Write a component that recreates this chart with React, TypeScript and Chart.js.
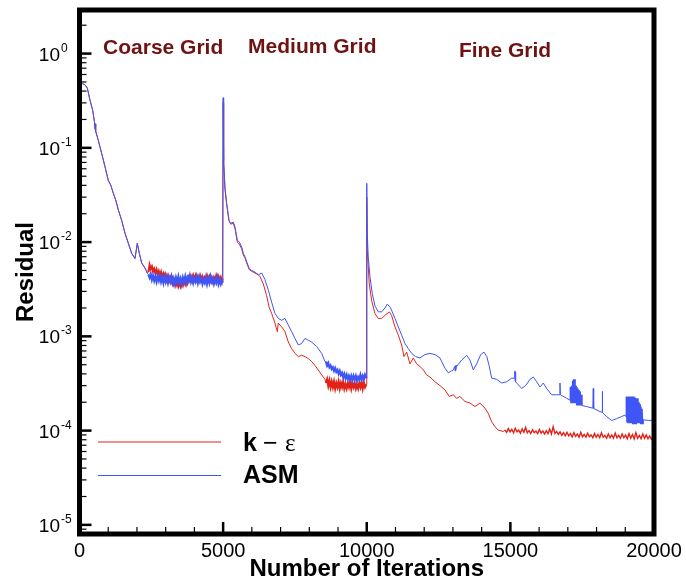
import { useEffect, useRef } from 'react';
import { Chart, registerables } from 'chart.js';

Chart.register(...registerables);

type P = [number, number];

// ---------- DATA (iteration, residual) ----------
const coarseDescent: P[] = [
  [100, 0.48], [180, 0.47], [272, 0.43], [366, 0.32], [459, 0.25], [520, 0.19], [540, 0.16],
  [555, 0.18], [570, 0.15], [655, 0.12], [773, 0.087], [888, 0.063], [1004, 0.045],
  [1090, 0.04], [1177, 0.033], [1260, 0.028], [1351, 0.022], [1468, 0.017], [1584, 0.0124],
  [1700, 0.0097], [1816, 0.0076], [1932, 0.0067], [2013, 0.0097], [2083, 0.0076],
  [2165, 0.006], [2280, 0.0053], [2360, 0.0047],
];

const asmCoarsePlateau: P[] = [
  [2400, 4.5e-3], [2440, 4.2e-3], [2480, 4.6e-3], [2520, 4.0e-3], [2560, 4.4e-3], [2600, 3.9e-3],
  [2640, 4.3e-3], [2680, 3.8e-3], [2720, 4.3e-3], [2760, 3.9e-3], [2800, 4.4e-3], [2840, 3.8e-3],
  [2880, 4.2e-3], [2920, 3.7e-3], [2960, 4.3e-3], [3000, 3.8e-3], [3040, 4.2e-3], [3080, 3.7e-3],
  [3120, 4.2e-3], [3160, 3.8e-3], [3200, 4.3e-3], [3240, 3.7e-3], [3280, 4.1e-3], [3320, 3.6e-3],
  [3360, 4.2e-3], [3400, 3.8e-3], [3440, 4.3e-3], [3480, 3.7e-3], [3520, 4.1e-3], [3560, 3.6e-3],
  [3600, 4.2e-3], [3640, 3.8e-3], [3680, 4.3e-3], [3720, 3.7e-3], [3760, 4.2e-3], [3800, 3.9e-3],
  [3840, 4.4e-3], [3880, 3.8e-3], [3920, 4.2e-3], [3960, 3.7e-3], [4000, 4.1e-3], [4040, 3.8e-3],
  [4080, 4.3e-3], [4120, 3.7e-3], [4160, 4.2e-3], [4200, 3.8e-3], [4240, 4.1e-3], [4280, 3.6e-3],
  [4320, 4.0e-3], [4360, 3.7e-3], [4400, 4.2e-3], [4440, 3.6e-3], [4480, 4.1e-3], [4520, 3.7e-3],
  [4560, 4.3e-3], [4600, 3.8e-3], [4640, 4.1e-3], [4680, 3.6e-3], [4720, 4.0e-3], [4760, 3.7e-3],
  [4800, 4.2e-3], [4840, 3.6e-3], [4880, 4.0e-3], [4920, 3.6e-3], [4960, 3.9e-3], [4985, 3.7e-3],
];

const keCoarsePlateau: P[] = [
  [2400, 4.8e-3], [2440, 5.7e-3], [2480, 5.2e-3], [2520, 5.5e-3], [2560, 4.9e-3], [2600, 5.2e-3],
  [2640, 4.7e-3], [2680, 5.1e-3], [2720, 4.5e-3], [2760, 4.9e-3], [2800, 4.4e-3], [2840, 4.8e-3],
  [2880, 4.3e-3], [2920, 4.6e-3], [2960, 4.1e-3], [3000, 4.5e-3], [3040, 4.0e-3], [3080, 4.4e-3],
  [3120, 3.9e-3], [3160, 4.2e-3], [3200, 3.8e-3], [3240, 4.1e-3], [3280, 3.6e-3], [3320, 3.9e-3],
  [3360, 3.5e-3], [3400, 3.8e-3], [3440, 3.4e-3], [3480, 3.7e-3], [3520, 3.4e-3], [3560, 3.8e-3],
  [3600, 3.5e-3], [3640, 3.9e-3], [3680, 3.6e-3], [3720, 4.0e-3], [3760, 3.7e-3], [3800, 4.2e-3],
  [3840, 3.9e-3], [3880, 4.3e-3], [3920, 3.9e-3], [3960, 4.4e-3], [4000, 4.0e-3], [4040, 4.4e-3],
  [4080, 4.0e-3], [4120, 4.3e-3], [4160, 3.9e-3], [4200, 4.4e-3], [4240, 4.0e-3], [4280, 4.3e-3],
  [4320, 3.9e-3], [4360, 4.2e-3], [4400, 3.9e-3], [4440, 4.4e-3], [4480, 4.0e-3], [4520, 4.3e-3],
  [4560, 3.9e-3], [4600, 4.2e-3], [4640, 3.8e-3], [4680, 4.2e-3], [4720, 3.9e-3], [4760, 4.4e-3],
  [4800, 4.0e-3], [4840, 4.3e-3], [4880, 3.9e-3], [4920, 4.2e-3], [4960, 3.8e-3], [4985, 4.1e-3],
];

const asmMedium: P[] = [
  [5000, 0.34], [5006, 0.166], [5030, 0.074], [5065, 0.038], [5124, 0.0257], [5204, 0.017],
  [5263, 0.0158], [5354, 0.0163], [5413, 0.0145], [5494, 0.0105], [5563, 0.01], [5646, 0.0089],
  [5702, 0.0076], [5761, 0.007], [5820, 0.0062], [5911, 0.0052], [5994, 0.005], [6109, 0.0048],
  [6225, 0.0045], [6342, 0.0047], [6457, 0.004], [6573, 0.0031], [6690, 0.0023], [6805, 0.00175],
  [6921, 0.00155], [7038, 0.00148], [7153, 0.00155], [7269, 0.00132], [7386, 0.00112],
  [7502, 0.00095], [7618, 0.00081], [7734, 0.00084], [7850, 0.00095], [7965, 0.00091],
  [8080, 0.00087], [8257, 0.00078], [8431, 0.00066], [8546, 0.00054],
];

const asmMediumPlateau: P[] = [
  [8580, 5.4e-4], [8620, 4.9e-4], [8660, 5.2e-4], [8700, 4.7e-4], [8740, 4.9e-4], [8780, 4.5e-4],
  [8820, 4.7e-4], [8860, 4.3e-4], [8900, 4.6e-4], [8940, 4.2e-4], [8980, 4.4e-4], [9020, 4.0e-4],
  [9060, 4.3e-4], [9100, 3.9e-4], [9140, 4.1e-4], [9180, 3.7e-4], [9220, 4.0e-4], [9260, 3.6e-4],
  [9300, 3.9e-4], [9340, 3.5e-4], [9380, 3.8e-4], [9420, 3.5e-4], [9460, 3.8e-4], [9500, 3.4e-4],
  [9540, 3.8e-4], [9580, 3.5e-4], [9620, 3.8e-4], [9660, 3.4e-4], [9700, 3.7e-4], [9740, 3.5e-4],
  [9780, 3.9e-4], [9820, 3.5e-4], [9860, 3.8e-4], [9900, 3.5e-4], [9940, 3.9e-4], [9985, 3.6e-4],
];

const keMedium: P[] = [
  [5000, 0.3], [5006, 0.15], [5030, 0.07], [5065, 0.036], [5124, 0.025], [5204, 0.0168],
  [5263, 0.0155], [5354, 0.0158], [5413, 0.014], [5494, 0.01], [5563, 0.0095], [5646, 0.0085],
  [5702, 0.0073], [5761, 0.0068], [5820, 0.006], [5911, 0.0051], [5994, 0.0049], [6109, 0.0047],
  [6225, 0.0045], [6283, 0.0043], [6399, 0.0036], [6515, 0.0027], [6608, 0.002], [6690, 0.00175],
  [6805, 0.00138], [6887, 0.00112], [6920, 0.00138], [7038, 0.00126], [7153, 0.00112],
  [7269, 0.00087], [7386, 0.00074], [7502, 0.00066], [7618, 0.00061], [7734, 0.00063],
  [7850, 0.00061], [7965, 0.00058], [8083, 0.00054], [8200, 0.00049], [8312, 0.00044],
  [8431, 0.00039], [8546, 0.00035],
];

const keMediumPlateau: P[] = [
  [8580, 3.2e-4], [8620, 3.5e-4], [8660, 3.0e-4], [8700, 3.4e-4], [8740, 2.9e-4], [8780, 3.3e-4],
  [8820, 2.9e-4], [8860, 3.3e-4], [8900, 2.8e-4], [8940, 3.2e-4], [8980, 2.9e-4], [9020, 3.3e-4],
  [9060, 2.8e-4], [9100, 3.2e-4], [9140, 2.9e-4], [9180, 3.3e-4], [9220, 2.8e-4], [9260, 3.1e-4],
  [9300, 2.8e-4], [9340, 3.2e-4], [9380, 2.9e-4], [9420, 3.3e-4], [9460, 2.8e-4], [9500, 3.2e-4],
  [9540, 2.9e-4], [9580, 3.2e-4], [9620, 2.8e-4], [9660, 3.1e-4], [9700, 2.8e-4], [9740, 3.2e-4],
  [9780, 2.9e-4], [9820, 3.3e-4], [9860, 2.8e-4], [9900, 3.2e-4], [9940, 2.9e-4], [9985, 3.1e-4],
];

const asmFine: P[] = [
  [10000, 0.042], [10018, 0.0123], [10053, 0.0069], [10112, 0.0043], [10193, 0.00285],
  [10286, 0.0021], [10402, 0.00182], [10518, 0.00182], [10634, 0.002], [10716, 0.0022],
  [10831, 0.002], [10983, 0.00155], [11099, 0.00126], [11215, 0.00103], [11331, 0.00084],
  [11447, 0.00074], [11563, 0.00066], [11700, 0.00061], [11853, 0.00059], [12027, 0.00064],
  [12200, 0.00066], [12375, 0.00064], [12549, 0.00059], [12723, 0.00046], [12839, 0.00041],
  [12950, 0.00043], [13013, 0.00044], [13060, 0.00048], [13075, 0.00043], [13090, 0.00049],
  [13105, 0.00044], [13120, 0.00049], [13130, 0.00048], [13304, 0.00056], [13478, 0.00063],
  [13594, 0.00056], [13710, 0.00044], [13826, 0.00051], [13967, 0.00064], [14082, 0.00068],
  [14180, 0.00061], [14266, 0.00048], [14349, 0.00036], [14520, 0.00035], [14697, 0.00032],
  [14870, 0.00033], [15045, 0.00036], [15140, 0.00036], [15155, 0.00043], [15165, 0.00034],
  [15175, 0.00042], [15190, 0.00033], [15393, 0.00028], [15530, 0.0003], [15683, 0.00035],
  [15799, 0.00037], [15915, 0.00033], [16030, 0.00029], [16146, 0.00032], [16262, 0.00028],
  [16437, 0.00024], [16610, 0.00024], [16715, 0.00024], [16727, 0.00032], [16740, 0.00024],
  [16960, 0.00022],
  [17080, 2.1e-4], [17100, 2.9e-4], [17120, 2.0e-4], [17140, 3.0e-4], [17160, 2.0e-4],
  [17180, 3.4e-4], [17200, 2.0e-4], [17220, 3.5e-4], [17240, 1.95e-4], [17260, 3.0e-4],
  [17280, 1.95e-4], [17300, 2.9e-4], [17320, 1.9e-4], [17340, 2.8e-4], [17360, 1.9e-4],
  [17380, 2.7e-4], [17400, 1.9e-4], [17420, 2.6e-4], [17440, 1.85e-4], [17460, 2.4e-4],
  [17480, 1.85e-4],
  [17655, 0.00018], [17870, 0.000173], [17885, 0.00028], [17900, 0.000172], [18119, 0.000159],
  [18190, 0.000157], [18200, 0.00026], [18212, 0.000155], [18352, 0.000141], [18526, 0.000128],
  [18700, 0.000134], [18870, 0.000141], [18990, 0.000146],
  [19030, 1.4e-4], [19050, 2.3e-4], [19070, 1.25e-4], [19090, 2.3e-4], [19110, 1.2e-4],
  [19130, 2.3e-4], [19150, 1.2e-4], [19170, 2.25e-4], [19190, 1.2e-4], [19210, 2.3e-4],
  [19230, 1.2e-4], [19250, 2.25e-4], [19270, 1.2e-4], [19290, 2.3e-4], [19310, 1.2e-4],
  [19330, 2.25e-4], [19350, 1.2e-4], [19370, 2.2e-4], [19390, 1.2e-4], [19410, 2.2e-4],
  [19430, 1.2e-4], [19450, 2.0e-4], [19470, 1.2e-4], [19490, 1.9e-4], [19510, 1.2e-4],
  [19530, 1.8e-4], [19550, 1.2e-4], [19570, 1.7e-4], [19590, 1.2e-4], [19610, 1.3e-4],
  [19858, 0.000128], [20000, 0.00013],
];

const keFine: P[] = [
  [10000, 0.03], [10018, 0.0082], [10088, 0.0036], [10170, 0.0024], [10286, 0.00174],
  [10402, 0.00155], [10518, 0.00155], [10634, 0.00167], [10785, 0.00182], [10865, 0.00167],
  [10983, 0.00126], [11099, 0.00103], [11215, 0.00081], [11296, 0.00061], [11390, 0.00068],
  [11505, 0.00051], [11620, 0.00059], [11737, 0.00051], [11853, 0.00048], [11970, 0.00044],
  [12086, 0.00039], [12200, 0.00037], [12375, 0.00033], [12549, 0.0003], [12723, 0.00027],
  [12873, 0.00023], [13013, 0.00024], [13130, 0.00022], [13245, 0.00023], [13419, 0.000204],
  [13594, 0.000196], [13768, 0.00018], [13942, 0.000196], [14116, 0.000173], [14232, 0.000152],
  [14349, 0.000124], [14464, 0.00011], [14580, 0.000101], [14753, 0.000098],
];

const keFinePlateau: P[] = [
  [14810, 1.02e-4], [14870, 0.96e-4], [14930, 1.05e-4], [14990, 0.97e-4], [15050, 1.03e-4],
  [15110, 0.95e-4], [15170, 1.06e-4], [15230, 0.97e-4], [15290, 1.01e-4], [15350, 0.94e-4],
  [15410, 1.04e-4], [15470, 0.96e-4], [15530, 1.08e-4], [15590, 0.95e-4], [15650, 1.0e-4],
  [15710, 0.93e-4], [15770, 1.02e-4], [15830, 0.95e-4], [15890, 0.99e-4], [15950, 0.93e-4],
  [16010, 1.03e-4], [16070, 0.94e-4], [16130, 0.99e-4], [16190, 0.92e-4], [16250, 1.0e-4],
  [16310, 0.93e-4], [16370, 1.04e-4], [16430, 0.92e-4], [16490, 1.1e-4], [16550, 0.93e-4],
  [16610, 0.98e-4], [16670, 0.91e-4], [16730, 0.97e-4], [16790, 0.89e-4], [16850, 0.95e-4],
  [16910, 0.88e-4], [16970, 0.96e-4], [17030, 0.88e-4], [17090, 0.93e-4], [17150, 0.86e-4],
  [17210, 0.95e-4], [17270, 0.87e-4], [17330, 0.92e-4], [17390, 0.85e-4], [17450, 0.96e-4],
  [17510, 0.86e-4], [17570, 0.91e-4], [17630, 0.85e-4], [17690, 0.94e-4], [17750, 0.86e-4],
  [17810, 0.9e-4], [17870, 0.84e-4], [17930, 0.93e-4], [17990, 0.85e-4], [18050, 0.91e-4],
  [18110, 0.84e-4], [18170, 0.95e-4], [18230, 0.85e-4], [18290, 0.89e-4], [18350, 0.83e-4],
  [18410, 0.92e-4], [18470, 0.84e-4], [18530, 0.9e-4], [18590, 0.83e-4], [18650, 0.94e-4],
  [18710, 0.84e-4], [18770, 0.89e-4], [18830, 0.83e-4], [18890, 0.92e-4], [18950, 0.84e-4],
  [19010, 0.9e-4], [19070, 0.82e-4], [19130, 0.93e-4], [19190, 0.83e-4], [19250, 0.91e-4],
  [19310, 0.82e-4], [19370, 0.95e-4], [19430, 0.83e-4], [19490, 0.89e-4], [19550, 0.82e-4],
  [19610, 0.92e-4], [19670, 0.83e-4], [19730, 0.9e-4], [19790, 0.82e-4], [19850, 0.88e-4],
  [19910, 0.81e-4], [19970, 0.86e-4], [20000, 0.83e-4],
];

// iteration ranges where the residual history is a dense noisy band
const asmNoisyRanges: P[] = [[2390, 4990], [8570, 9990], [17070, 17490], [19020, 19620]];
const keNoisyRanges: P[] = [[2390, 4990], [8570, 9990], [14800, 20000]];

const ITER_MAJOR_TICKS = [0, 5000, 10000, 15000, 20000];
const ITER_MINOR_STEP = 1000;
const RESID_EXPONENTS = [0, -1, -2, -3, -4, -5];
const GRID_LABELS = ['Coarse Grid', 'Medium Grid', 'Fine Grid'];
const GRID_LABEL_ITERS = [820, 5870, 13210];
const SERIES_NAMES = ['k', 'ASM'];
const X_TITLE = 'Number of Iterations';
const Y_TITLE = 'Residual';

const RED = '#e2231a';
const BLUE = '#3f55f6';
const MAROON = '#6e1212';
const SANS = '"Liberation Sans", Arial, Helvetica, sans-serif';
const SERIF = '"Liberation Serif", "DejaVu Serif", serif';

const toXY = (pts: P[]) => pts.map(([x, y]) => ({ x, y }));
const inRanges = (ranges: P[], a: number, b: number) =>
  ranges.some(([lo, hi]) => a >= lo && b <= hi);

const keSeries = [...coarseDescent, ...keCoarsePlateau, ...keMedium, ...keMediumPlateau, ...keFine, ...keFinePlateau];
const asmSeries = [...coarseDescent, ...asmCoarsePlateau, ...asmMedium, ...asmMediumPlateau, ...asmFine];

const framePlugin = {
  id: 'tecplotFrame',
  afterDraw(chart: any) {
    const { ctx, chartArea: a } = chart;
    const xs = chart.scales.x;
    const ys = chart.scales.y;
    ctx.save();
    ctx.strokeStyle = '#000';
    ctx.fillStyle = '#000';
    ctx.lineCap = 'butt';

    for (let e = -6; e <= 0; e++) {
      for (let m = 1; m <= 9; m++) {
        const v = m * Math.pow(10, e);
        if (v < ys.min || v > ys.max) continue;
        const py = ys.getPixelForValue(v);
        ctx.beginPath();
        ctx.lineWidth = m === 1 ? 2.5 : 1.2;
        ctx.moveTo(a.left, py);
        ctx.lineTo(a.left + (m === 1 ? 12 : 7), py);
        ctx.stroke();
      }
    }
    for (let it = 0; it <= 20000; it += ITER_MINOR_STEP) {
      const px = xs.getPixelForValue(it);
      const major = ITER_MAJOR_TICKS.includes(it);
      ctx.beginPath();
      ctx.lineWidth = major ? 2.5 : 1.2;
      ctx.moveTo(px, a.bottom);
      ctx.lineTo(px, a.bottom - (major ? 12 : 7));
      ctx.stroke();
    }
    ctx.lineWidth = 5;
    ctx.lineJoin = 'miter';
    ctx.strokeRect(a.left, a.top, a.right - a.left, a.bottom - a.top);

    for (const e of RESID_EXPONENTS) {
      const py = ys.getPixelForValue(Math.pow(10, e));
      ctx.font = `19px ${SANS}`;
      ctx.textAlign = 'right';
      ctx.textBaseline = 'alphabetic';
      ctx.fillText('10', a.left - 19.5, py + 7);
      ctx.font = `12px ${SANS}`;
      ctx.textAlign = 'left';
      ctx.fillText(String(e), a.left - 18.5, py - 2);
    }
    ctx.font = `20px ${SANS}`;
    ctx.textAlign = 'center';
    for (const t of ITER_MAJOR_TICKS) {
      ctx.fillText(String(t), xs.getPixelForValue(t), a.bottom + 22.5);
    }
    ctx.font = `bold 24px ${SANS}`;
    ctx.fillText(X_TITLE, (a.left + a.right) / 2, 576);
    ctx.save();
    ctx.translate(33, (a.top + a.bottom) / 2);
    ctx.rotate(-Math.PI / 2);
    ctx.fillText(Y_TITLE, 0, 0);
    ctx.restore();

    ctx.fillStyle = MAROON;
    ctx.font = `bold 21px ${SANS}`;
    ctx.textAlign = 'left';
    const annY = [53.5, 53.3, 56.7];
    GRID_LABELS.forEach((lbl, i) => {
      ctx.fillText(lbl, xs.getPixelForValue(GRID_LABEL_ITERS[i]), annY[i]);
    });

    const lx0 = 98, lx1 = 221;
    ctx.lineWidth = 1;
    ctx.strokeStyle = RED;
    ctx.beginPath(); ctx.moveTo(lx0, 442); ctx.lineTo(lx1, 442); ctx.stroke();
    ctx.strokeStyle = BLUE;
    ctx.beginPath(); ctx.moveTo(lx0, 475.5); ctx.lineTo(lx1, 475.5); ctx.stroke();
    ctx.fillStyle = '#000';
    ctx.font = `bold 25px ${SANS}`;
    ctx.fillText(SERIES_NAMES[0], 243, 451);
    ctx.font = `25px ${SANS}`;
    ctx.fillText('\u2212', 263, 451);
    ctx.font = `25px ${SERIF}`;
    ctx.fillText('\u03b5', 285, 451);
    ctx.font = `bold 25px ${SANS}`;
    ctx.fillText(SERIES_NAMES[1], 243, 483);

    ctx.restore();
  },
};

export default function App() {
  const ref = useRef<HTMLCanvasElement>(null);
  useEffect(() => {
    if (!ref.current) return;
    const chart = new Chart(ref.current, {
      type: 'line',
      data: {
        datasets: [
          {
            label: 'ASM',
            data: toXY(asmSeries),
            borderColor: BLUE,
            borderWidth: 1,
            pointRadius: 0,
            tension: 0,
            order: 1,
            segment: {
              borderWidth: (c: any) => (inRanges(asmNoisyRanges, c.p0.parsed.x, c.p1.parsed.x) ? 2.2 : 1),
            },
          },
          {
            label: 'k - e',
            data: toXY(keSeries),
            borderColor: RED,
            borderWidth: 1,
            pointRadius: 0,
            tension: 0,
            order: 2,
            segment: {
              borderWidth: (c: any) => {
                if (!inRanges(keNoisyRanges, c.p0.parsed.x, c.p1.parsed.x)) return 1;
                return c.p0.parsed.x >= 14800 ? 1.4 : 2.2;
              },
            },
          },
        ],
      },
      options: {
        animation: false,
        responsive: false,
        devicePixelRatio: 1,
        layout: { padding: { left: 79.5, right: 32, top: 10, bottom: 54 } },
        scales: {
          x: { type: 'linear', min: 0, max: 20000, display: false },
          y: { type: 'logarithmic', min: 8e-6, max: 2.9, display: false },
        },
        plugins: { legend: { display: false }, tooltip: { enabled: false } },
        events: [],
      },
      plugins: [framePlugin],
    } as any);
    return () => chart.destroy();
  }, []);
  return (
    <div style={{ position: 'fixed', left: 0, top: 0, width: 686, height: 588, background: '#fff' }}>
      <canvas ref={ref} width={686} height={588} />
    </div>
  );
}
